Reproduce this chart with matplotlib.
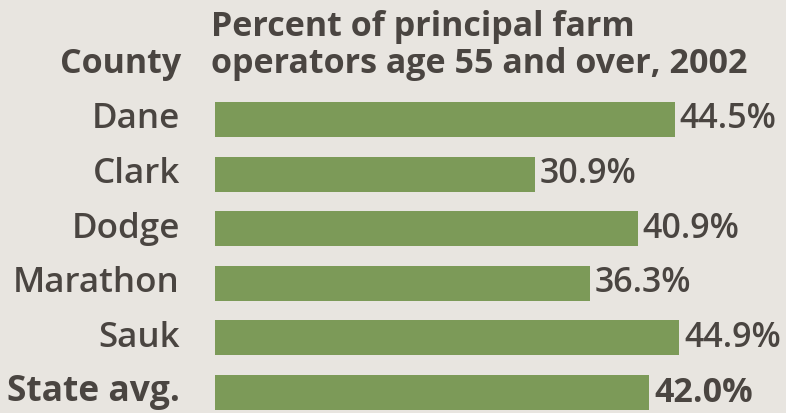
import matplotlib
matplotlib.use("Agg")
import matplotlib.pyplot as plt

counties = ["Dane", "Clark", "Dodge", "Marathon", "Sauk", "State avg."]
values = [44.5, 30.9, 40.9, 36.3, 44.9, 42.0]
value_labels = ["44.5%", "30.9%", "40.9%", "36.3%", "44.9%", "42.0%"]
title_lines = ["Percent of principal farm", "operators age 55 and over, 2002"]
col_header = "County"

BG = "#e8e5e0"
BAR = "#7c9a58"
TXT = "#4a4541"
plt.rcParams['font.family'] = ['Open Sans', 'DejaVu Sans']

W, H = 786, 413
fig = plt.figure(figsize=(W/100, H/100), dpi=100, facecolor=BG)
px = 10.34  # pixels per percent
ax = fig.add_axes([215/W, 0, 1 - 215/W, 1])
ax.set_facecolor(BG)
ax.set_xlim(0, (W - 215)/px)
step = 54.6
top_c = 119.5
ax.set_ylim((H - top_c)/step, -top_c/step)
ys = list(range(len(counties)))
ax.barh(ys, values, height=0.64, color=BAR, edgecolor='none')
for y, v, lab, name in zip(ys, values, value_labels, counties):
    bold = name == "State avg."
    ax.text(v + 0.45, y, lab, va='center', ha='left', fontsize=24.5,
            color=TXT, fontweight='bold' if bold else 'semibold')
    fig.text(180/W, 1 - (top_c + y*step)/H, name, va='center', ha='right',
             fontsize=25.5 if bold else 25.2, color=TXT,
             fontweight='bold' if bold else 'semibold')
ax.axis('off')

fig.text(211/W, 1 - 27/H, title_lines[0], ha='left', va='center', fontsize=24.5,
         fontweight='bold', color=TXT)
fig.text(211/W, 1 - 64/H, title_lines[1], ha='left', va='center', fontsize=24.5,
         fontweight='bold', color=TXT)
fig.text(181/W, 1 - 64/H, col_header, ha='right', va='center', fontsize=24.5,
         fontweight='bold', color=TXT)

fig.savefig("out.png", dpi=100, facecolor=BG)
